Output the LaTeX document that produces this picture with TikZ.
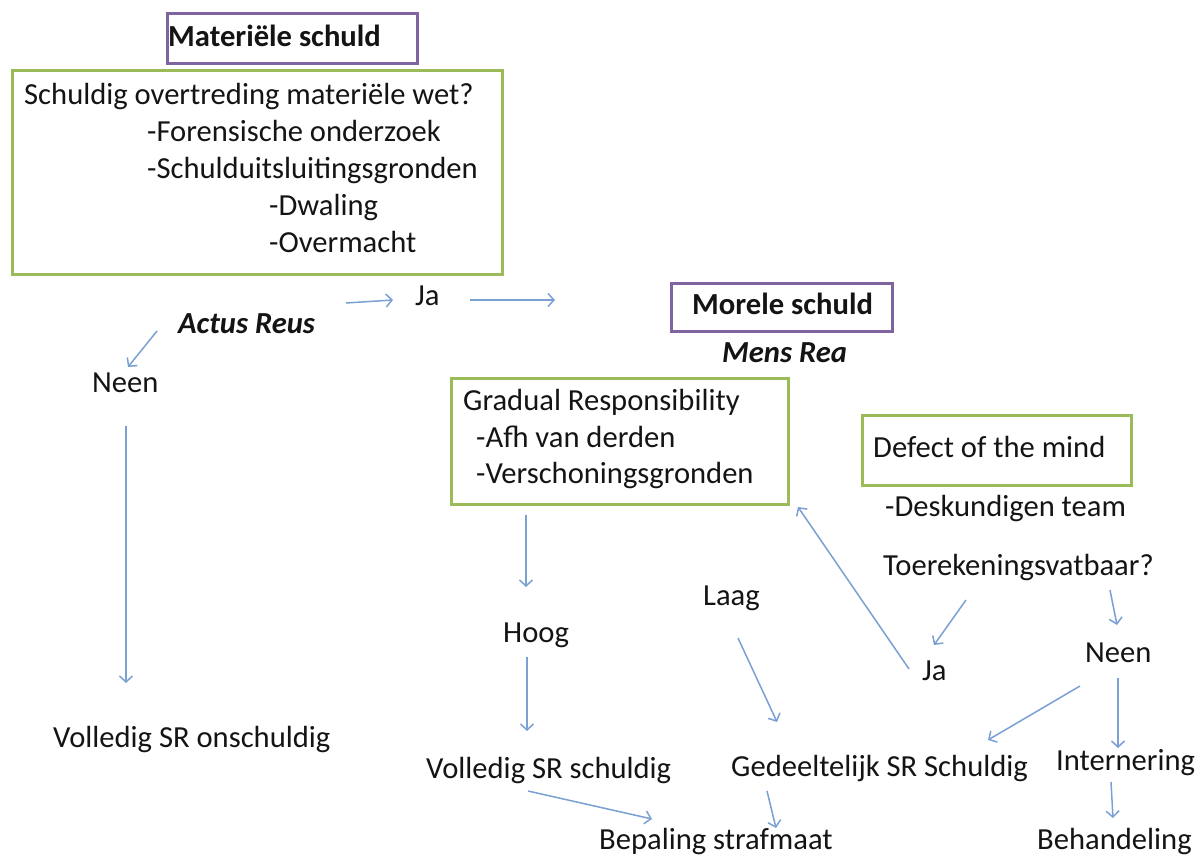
\documentclass[tikz,border=0pt]{standalone}
\usepackage{fontspec}
\setmainfont{Carlito}
\usetikzlibrary{arrows.meta,calc}
\definecolor{boxgreen}{RGB}{155,187,89}
\definecolor{boxpurple}{RGB}{128,100,162}
\definecolor{arrblue}{RGB}{122,160,212}
\newcommand{\fs}{\fontsize{30.6}{36}\selectfont}
\tikzset{
  txt/.style={anchor=base west,inner sep=0pt,font=\fs,text=black!92},
  greenbox/.style={draw=boxgreen,line width=3pt,anchor=north west,inner sep=0pt,fill=none},
  purplebox/.style={draw=boxpurple,line width=3pt,anchor=north west,inner sep=0pt,fill=none},
  arr/.style={draw=arrblue,line width=1.5pt,-{Straight Barb[length=6pt,width=13pt,line width=1.5pt]}}
}
\begin{document}
\begin{tikzpicture}[x=1pt,y=-1pt]
\useasboundingbox[fill=white] (0,0) rectangle (1203,858);
% boxes
\node[purplebox,minimum width=250pt,minimum height=50pt] (matbox) at (166,12) {};
\node[greenbox,minimum width=490pt,minimum height=204pt] (box1) at (11,69) {};
\node[purplebox,minimum width=221pt,minimum height=48pt] (mor) at (670,282) {};
\node[greenbox,minimum width=337pt,minimum height=126pt] (grad) at (450,377) {};
\node[greenbox,minimum width=269pt,minimum height=70pt] (defect) at (861,414) {};
% texts
\node[txt,font=\fs\bfseries] (mat) at (168,47) {Materiële schuld};
\node[txt] (l1) at (24,105) {Schuldig overtreding materiële wet?};
\node[txt] (l2) at (147,142) {-Forensische onderzoek};
\node[txt] (l3) at (147,179) {-Schulduitsluitingsgronden};
\node[txt] (l4) at (269,216) {-Dwaling};
\node[txt] (l5) at (269,253) {-Overmacht};
\node[txt] (jaL) at (415,306) {Ja};
\node[txt,font=\fs\bfseries\itshape] (actus) at (178,334) {Actus Reus};
\node[txt] (neenL) at (92,393) {Neen};
\node[txt] (onsch) at (53,747) {Volledig SR onschuldig};
\node[txt,font=\fs\bfseries] (mortxt) at (692,315) {Morele schuld};
\node[txt,font=\fs\bfseries\itshape] (mens) at (722,363) {Mens Rea};
\node[txt] (g1) at (463,411) {Gradual Responsibility};
\node[txt] (g2) at (476,448) {-Afh van derden};
\node[txt] (g3) at (476,484) {-Verschoningsgronden};
\node[txt] (d1) at (873,458) {Defect of the mind};
\node[txt] (desk) at (885,517) {-Deskundigen team};
\node[txt] (toer) at (883,575) {Toerekeningsvatbaar?};
\node[txt] (jaR) at (922,680) {Ja};
\node[txt] (neenR) at (1085,662) {Neen};
\node[txt] (laag) at (703,605) {Laag};
\node[txt] (hoog) at (503,642) {Hoog};
\node[txt] (vsch) at (426,778) {Volledig SR schuldig};
\node[txt] (bep) at (599,849) {Bepaling strafmaat};
\node[txt] (ged) at (731,776) {Gedeeltelijk SR Schuldig};
\node[txt] (intern) at (1056,770) {Internering};
\node[txt] (beh) at (1037,849) {Behandeling};
% connectors
\draw[arr] ($(box1.south west)+(335,27)$) -- ($(jaL.base west)+(-22,-6)$);
\draw[arr] ($(jaL.base west)+(55,-6)$) -- ($(mor.north west)+(-115,18)$);
\draw[arr] ($(actus.base west)+(-21,-3)$) -- ($(neenL.base west)+(36,-26)$);
\draw[arr] ($(neenL.base west)+(34,33)$) -- ($(onsch.base west)+(73,-64)$);
\draw[arr] ($(grad.south west)+(76,9)$) -- ($(hoog.base west)+(23,-55)$);
\draw[arr] ($(hoog.base west)+(24,15)$) -- ($(vsch.base west)+(101,-47)$);
\draw[arr] ($(vsch.base west)+(102,13)$) -- ($(bep.base west)+(53,-30)$);
\draw[arr] ($(laag.base west)+(35,33)$) -- ($(ged.base west)+(46,-54)$);
\draw[arr] ($(ged.base west)+(36,15)$) -- ($(bep.base west)+(177,-21)$);
\draw[arr] ($(jaR.base west)+(-13,-11)$) -- ($(grad.south east)+(8,1)$);
\draw[arr] ($(toer.base west)+(83,25)$) -- ($(jaR.base west)+(12,-35)$);
\draw[arr] ($(toer.base west)+(227,15)$) -- ($(neenR.base west)+(32,-37)$);
\draw[arr] ($(neenR.base west)+(-5,24)$) -- ($(ged.base west)+(257,-36)$);
\draw[arr] ($(neenR.base west)+(33,16)$) -- ($(intern.base west)+(62,-22)$);
\draw[arr] ($(intern.base west)+(55,12)$) -- ($(beh.base west)+(76,-31)$);
\end{tikzpicture}
\end{document}
